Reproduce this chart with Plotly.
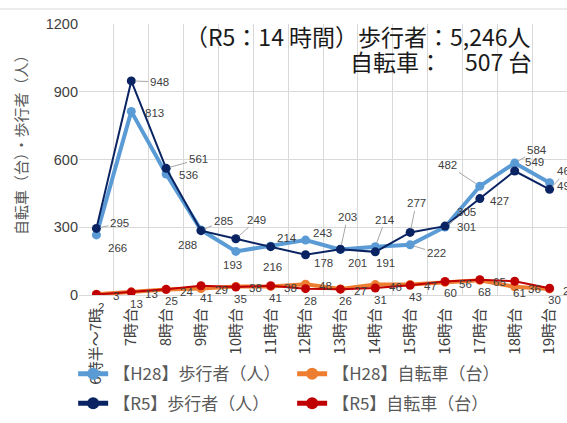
import plotly.graph_objects as go

categories = ["6時半～7時", "7時台", "8時台", "9時台", "10時台", "11時台", "12時台",
              "13時台", "14時台", "15時台", "16時台", "17時台", "18時台", "19時台"]
h28_ped = [266, 813, 536, 288, 193, 216, 243, 201, 214, 222, 301, 482, 584, 497]
r5_ped = [295, 948, 561, 285, 249, 214, 178, 203, 191, 277, 305, 427, 549, 468]
h28_bike = [3, 13, 24, 29, 38, 38, 48, 27, 46, 47, 56, 65, 36, 27]
r5_bike = [2, 13, 25, 41, 35, 41, 28, 26, 31, 43, 60, 68, 61, 30]
y_ticks = [0, 300, 600, 900, 1200]
header1 = "（R5：14 時間）歩行者：5,246人"
header2 = "自転車：　507 台"
y_title = "自転車（台）・歩行者（人）"
names = ["【H28】歩行者（人）", "【H28】自転車（台）", "【R5】歩行者（人）", "【R5】自転車（台）"]

# label placement (pixels: dx right, dy down) and leader flags
h28_ped_off = [(21, 13), (23, 2), (22, 1), (-14, 15), (-3, 14), (2, 21), (17, -7),
               (17, 13), (10, -27), (26, 8), (21, 0), (-32, -21), (22, -13), (17, 3)]
h28_ped_lead = [0, 0, 0, 0, 0, 0, 0, 0, 1, 1, 0, 1, 1, 0]
r5_ped_off = [(23, -5), (28, 1), (32, -9), (22, -10), (21, -19), (16, -9), (18, 8),
              (7, -32), (10, 11), (6, -29), (21, -14), (20, 2), (20, -9), (17, -18)]
r5_ped_lead = [1, 1, 1, 1, 1, 0, 0, 1, 0, 1, 1, 0, 0, 1]

C_H28P = "#5B9BD5"
C_H28B = "#ED7D31"
C_R5P = "#0A2463"
C_R5B = "#C00000"
LBL = "#404040"
CJK = "Noto Sans CJK JP"
NUM = "Liberation Sans, Noto Sans CJK JP"

fig = go.Figure()
fig.add_trace(go.Scatter(x=categories, y=h28_ped, name=names[0], mode="lines+markers", legend="legend",
                         line=dict(color=C_H28P, width=4), marker=dict(size=9, color=C_H28P)))
fig.add_trace(go.Scatter(x=categories, y=h28_bike, name=names[1], mode="lines+markers", legend="legend",
                         line=dict(color=C_H28B, width=4), marker=dict(size=9, color=C_H28B)))
fig.add_trace(go.Scatter(x=categories, y=r5_ped, name=names[2], mode="lines+markers", legend="legend2",
                         line=dict(color=C_R5P, width=2), marker=dict(size=9, color=C_R5P)))
fig.add_trace(go.Scatter(x=categories, y=r5_bike, name=names[3], mode="lines+markers", legend="legend2",
                         line=dict(color=C_R5B, width=2), marker=dict(size=9, color=C_R5B)))

annos = []


def add_labels(values, offsets, leads):
    for c, v, (dx, dy), ld in zip(categories, values, offsets, leads):
        base = dict(x=c, y=v, xref="x", yref="y", text=str(v),
                    font=dict(family=NUM, size=11.5, color=LBL))
        if ld:
            base.update(showarrow=True, ax=dx, ay=dy, arrowhead=0, arrowwidth=1,
                        arrowcolor="#A6A6A6", standoff=4, startstandoff=0)
        else:
            base.update(showarrow=False, xshift=dx, yshift=-dy)
        annos.append(base)


add_labels(h28_ped, h28_ped_off, h28_ped_lead)
add_labels(r5_ped, r5_ped_off, r5_ped_lead)
add_labels(h28_bike, [(20, 2)] * len(h28_bike), [0] * len(h28_bike))
add_labels(r5_bike, [(5, 12)] * len(r5_bike), [0] * len(r5_bike))

annos.append(dict(x=0.93, y=0.955, xref="paper", yref="paper", xanchor="right", yanchor="middle",
                  text=header1, showarrow=False, font=dict(family=CJK, size=23, color="#1a1a1a")))
annos.append(dict(x=0.93, y=0.862, xref="paper", yref="paper", xanchor="right", yanchor="middle",
                  text=header2, showarrow=False, font=dict(family=CJK, size=23, color="#1a1a1a")))
annos.append(dict(x=-0.121, y=0.568, xref="paper", yref="paper", xanchor="center", yanchor="middle",
                  text=y_title, textangle=-90, showarrow=False,
                  font=dict(family=CJK, size=15, color="#595959")))

leg_common = dict(orientation="h", x=-0.012, xanchor="left", yanchor="top",
                  entrywidth=174, entrywidthmode="pixels",
                  font=dict(family=CJK, size=17, color="#595959"), itemsizing="constant",
                  bgcolor="rgba(0,0,0,0)")

fig.update_layout(
    width=567, height=423,
    margin=dict(l=79, r=0, t=24, b=128, autoexpand=False),
    paper_bgcolor="white", plot_bgcolor="white",
    showlegend=True,
    legend=dict(y=-0.226, **leg_common),
    legend2=dict(y=-0.335, **leg_common),
    annotations=annos,
    shapes=[dict(type="line", xref="paper", yref="paper", x0=-0.17, x1=1.0, y0=1.0554, y1=1.0554,
                 line=dict(color="#D9D9D9", width=1))],
    xaxis=dict(type="category", range=[-0.5, 13.5], tickson="boundaries", showgrid=True,
               gridcolor="#D9D9D9", gridwidth=1, ticks="", tickangle=-90, automargin=False,
               ticklabelstandoff=9,
               tickfont=dict(family=CJK, size=15, color="#404040"), showline=False, zeroline=False),
    yaxis=dict(range=[0, 1200], tickvals=y_ticks, showgrid=True, gridcolor="#D9D9D9",
               zeroline=True, zerolinecolor="#D9D9D9", zerolinewidth=1, ticks="", automargin=False,
               tickfont=dict(family=NUM, size=14.5, color="#404040"), showline=False),
)

fig.write_html("out.html", config={"displayModeBar": False},
               post_script="document.body.style.margin='0';document.body.style.overflow='hidden';")
